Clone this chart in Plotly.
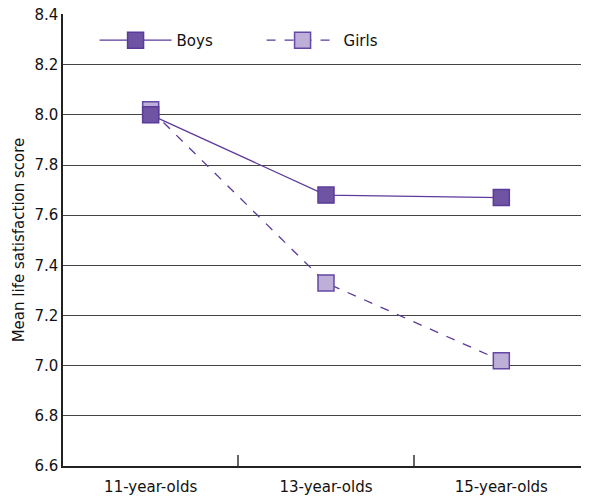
import plotly.graph_objects as go

categories = ["11-year-olds", "13-year-olds", "15-year-olds"]
boys = [8.00, 7.68, 7.67]
girls = [8.02, 7.33, 7.02]
y_ticks = [6.6, 6.8, 7.0, 7.2, 7.4, 7.6, 7.8, 8.0, 8.2, 8.4]

line_col = "#5B3A9B"
font_family = "DejaVu Sans, sans-serif"

fig = go.Figure()
fig.add_trace(go.Scatter(
    x=categories, y=girls, name="Girls", mode="lines+markers",
    line=dict(color=line_col, width=1.3, dash="dash"),
    marker=dict(symbol="square", size=16, color="#BDAFD7",
                line=dict(color="#6547A6", width=1.5)),
))
fig.add_trace(go.Scatter(
    x=categories, y=boys, name="Boys", mode="lines+markers",
    line=dict(color=line_col, width=1.3),
    marker=dict(symbol="square", size=16, color="#6E54A3",
                line=dict(color="#5B3A9B", width=1.5)),
))

# page places the figure 8px in from the left/top edges
fig.update_layout(
    width=581, height=489,
    margin=dict(l=55, r=0, t=6, b=31),
    paper_bgcolor="white", plot_bgcolor="white",
    font=dict(family=font_family, size=15, color="#111"),
    showlegend=True,
    legend=dict(orientation="h", x=0.06, y=0.978, xanchor="left", yanchor="top",
                traceorder="reversed", bgcolor="rgba(0,0,0,0)",
                font=dict(size=15), itemwidth=72, entrywidth=80),
    xaxis=dict(
        type="category", range=[-0.5, 2.5], automargin=False,
        showline=True, linecolor="#222", linewidth=1.5,
        tickson="boundaries", ticks="inside", ticklen=11, tickcolor="#666",
        tickwidth=1.5, showgrid=False, tickfont=dict(size=15),
        ticklabelstandoff=6,
    ),
    yaxis=dict(
        range=[6.6, 8.402], tickvals=y_ticks, automargin=False,
        ticktext=[f"{v:.1f}" for v in y_ticks],
        ticklabeloverflow="allow",
        showline=True, linecolor="#222", linewidth=1.5,
        showgrid=True, gridcolor="#444", gridwidth=1.2,
        ticks="", tickfont=dict(size=15), zeroline=False,
        title=dict(text="Mean life satisfaction score", font=dict(size=15), standoff=6),
    ),
)

fig.write_html("out.html")
